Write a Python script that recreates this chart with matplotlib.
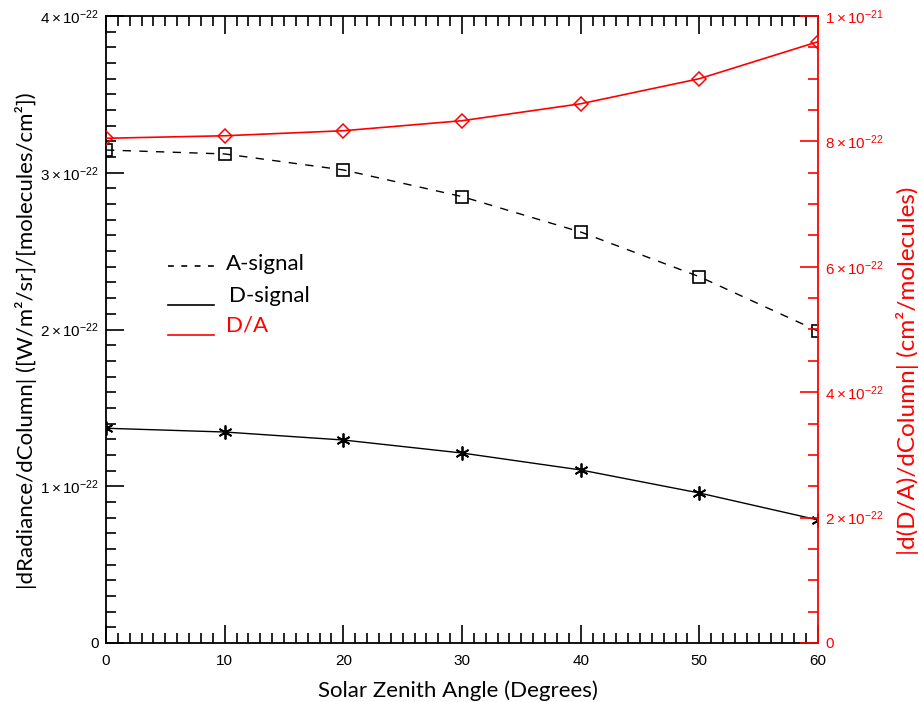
import matplotlib
matplotlib.use("Agg")
import matplotlib.pyplot as plt
import numpy as np
from matplotlib.ticker import MultipleLocator, FixedLocator

plt.rcParams['mathtext.fontset'] = 'custom'
plt.rcParams['mathtext.rm'] = 'Liberation Sans'
plt.rcParams['mathtext.it'] = 'Liberation Sans'
plt.rcParams['font.family'] = ['Liberation Sans', 'DejaVu Sans']

# data
sza = [0, 10, 20, 30, 40, 50, 60]
a_signal = [3.145e-22, 3.12e-22, 3.018e-22, 2.848e-22, 2.622e-22, 2.337e-22, 1.99e-22]
d_signal = [1.37e-22, 1.346e-22, 1.295e-22, 1.212e-22, 1.104e-22, 0.957e-22, 0.785e-22]
d_over_a = [8.05e-22, 8.09e-22, 8.17e-22, 8.33e-22, 8.6e-22, 9.0e-22, 9.59e-22]

left_ticks = [0, 1e-22, 2e-22, 3e-22, 4e-22]
left_labels = ['0', r'$1\times10^{-22}$', r'$2\times10^{-22}$', r'$3\times10^{-22}$', r'$4\times10^{-22}$']
right_ticks = [0, 2e-22, 4e-22, 6e-22, 8e-22, 1e-21]
right_labels = ['0', r'$2\times10^{-22}$', r'$4\times10^{-22}$', r'$6\times10^{-22}$',
                r'$8\times10^{-22}$', r'$1\times10^{-21}$']

label_font = ['Lato', 'DejaVu Sans']

fig = plt.figure(figsize=(9.19, 7.02), dpi=100)
ax = fig.add_axes([106/919, 1-643/702, 712/919, 627/702])
ax2 = ax.twinx()

ax.plot(sza, a_signal, color='black', lw=1.0, dashes=(6, 6), marker='s', ms=8,
        mfc='none', mec='black', mew=1.2)
ax.plot(sza, d_signal, color='black', lw=1.0, marker=(6, 2, 0), ms=10, mec='black', mew=1.3)
ax2.plot(sza, d_over_a, color='red', lw=1.2, marker='D', ms=7, mfc='none', mec='red', mew=1.1)

ax.set_xlim(0, 60)
ax.set_ylim(0, 4e-22)
ax2.set_ylim(0, 1e-21)

ax.xaxis.set_major_locator(MultipleLocator(10))
ax.xaxis.set_minor_locator(MultipleLocator(1))
ax.yaxis.set_major_locator(FixedLocator(left_ticks))
ax.set_yticklabels(left_labels)
ax.yaxis.set_minor_locator(MultipleLocator(1e-23))
ax2.yaxis.set_major_locator(FixedLocator(right_ticks))
ax2.set_yticklabels(right_labels)
ax2.yaxis.set_minor_locator(MultipleLocator(5e-23))

ax.tick_params(axis='x', which='both', direction='in', top=True, labelsize=11, pad=8, width=1.2)
ax.tick_params(axis='y', which='both', direction='in', right=False, labelsize=11, pad=5, width=1.2)
ax.tick_params(which='major', length=13)
ax.tick_params(which='minor', length=7)
ax2.tick_params(axis='y', which='both', direction='in', colors='red', labelsize=11, pad=5, width=1.2)
ax2.tick_params(which='major', length=13)
ax2.tick_params(which='minor', length=7)

for s in ['left', 'bottom', 'top']:
    ax.spines[s].set_linewidth(1.3)
    ax2.spines[s].set_visible(False)
ax.spines['right'].set_visible(False)
ax2.spines['right'].set_color('red')
ax2.spines['right'].set_linewidth(1.3)

ax.set_xlabel('Solar Zenith Angle (Degrees)', family=label_font, fontsize=16)
ax.xaxis.set_label_coords(0.494, -0.059)
ax.set_ylabel('|dRadiance/dColumn| ([W/m²/sr]/[molecules/cm²])', family=label_font, fontsize=16)
ax.yaxis.set_label_coords(-0.097, 0.482)
ax2.set_ylabel('|d(D/A)/dColumn| (cm²/molecules)', family=label_font, fontsize=17.5, color='red')
ax2.yaxis.set_label_coords(1.109, 0.434)

# hand-drawn legend as in the original
def px(x, y):
    return ((x - 106) / 712, (643 - y) / 627)

leg = [('A-signal', 'black', (3.5, 4.5), 266, 226),
       ('D-signal', 'black', None, 305, 229),
       ('D/A', 'red', None, 335, 226)]
for name, col, dash, yl, xt in leg:
    x0, y0 = px(168, yl)
    x1, _ = px(214, yl)
    kw = dict(dashes=dash) if dash else {}
    ax.plot([x0, x1], [y0, y0], transform=ax.transAxes, color=col, lw=1.2, clip_on=False, **kw)
    tx, ty = px(xt, yl - 2 if dash else yl - 9)
    ax.text(tx, ty, name, transform=ax.transAxes, color=col, family=label_font,
            fontsize=16, va='center', ha='left')

fig.savefig('out.png', dpi=100)
